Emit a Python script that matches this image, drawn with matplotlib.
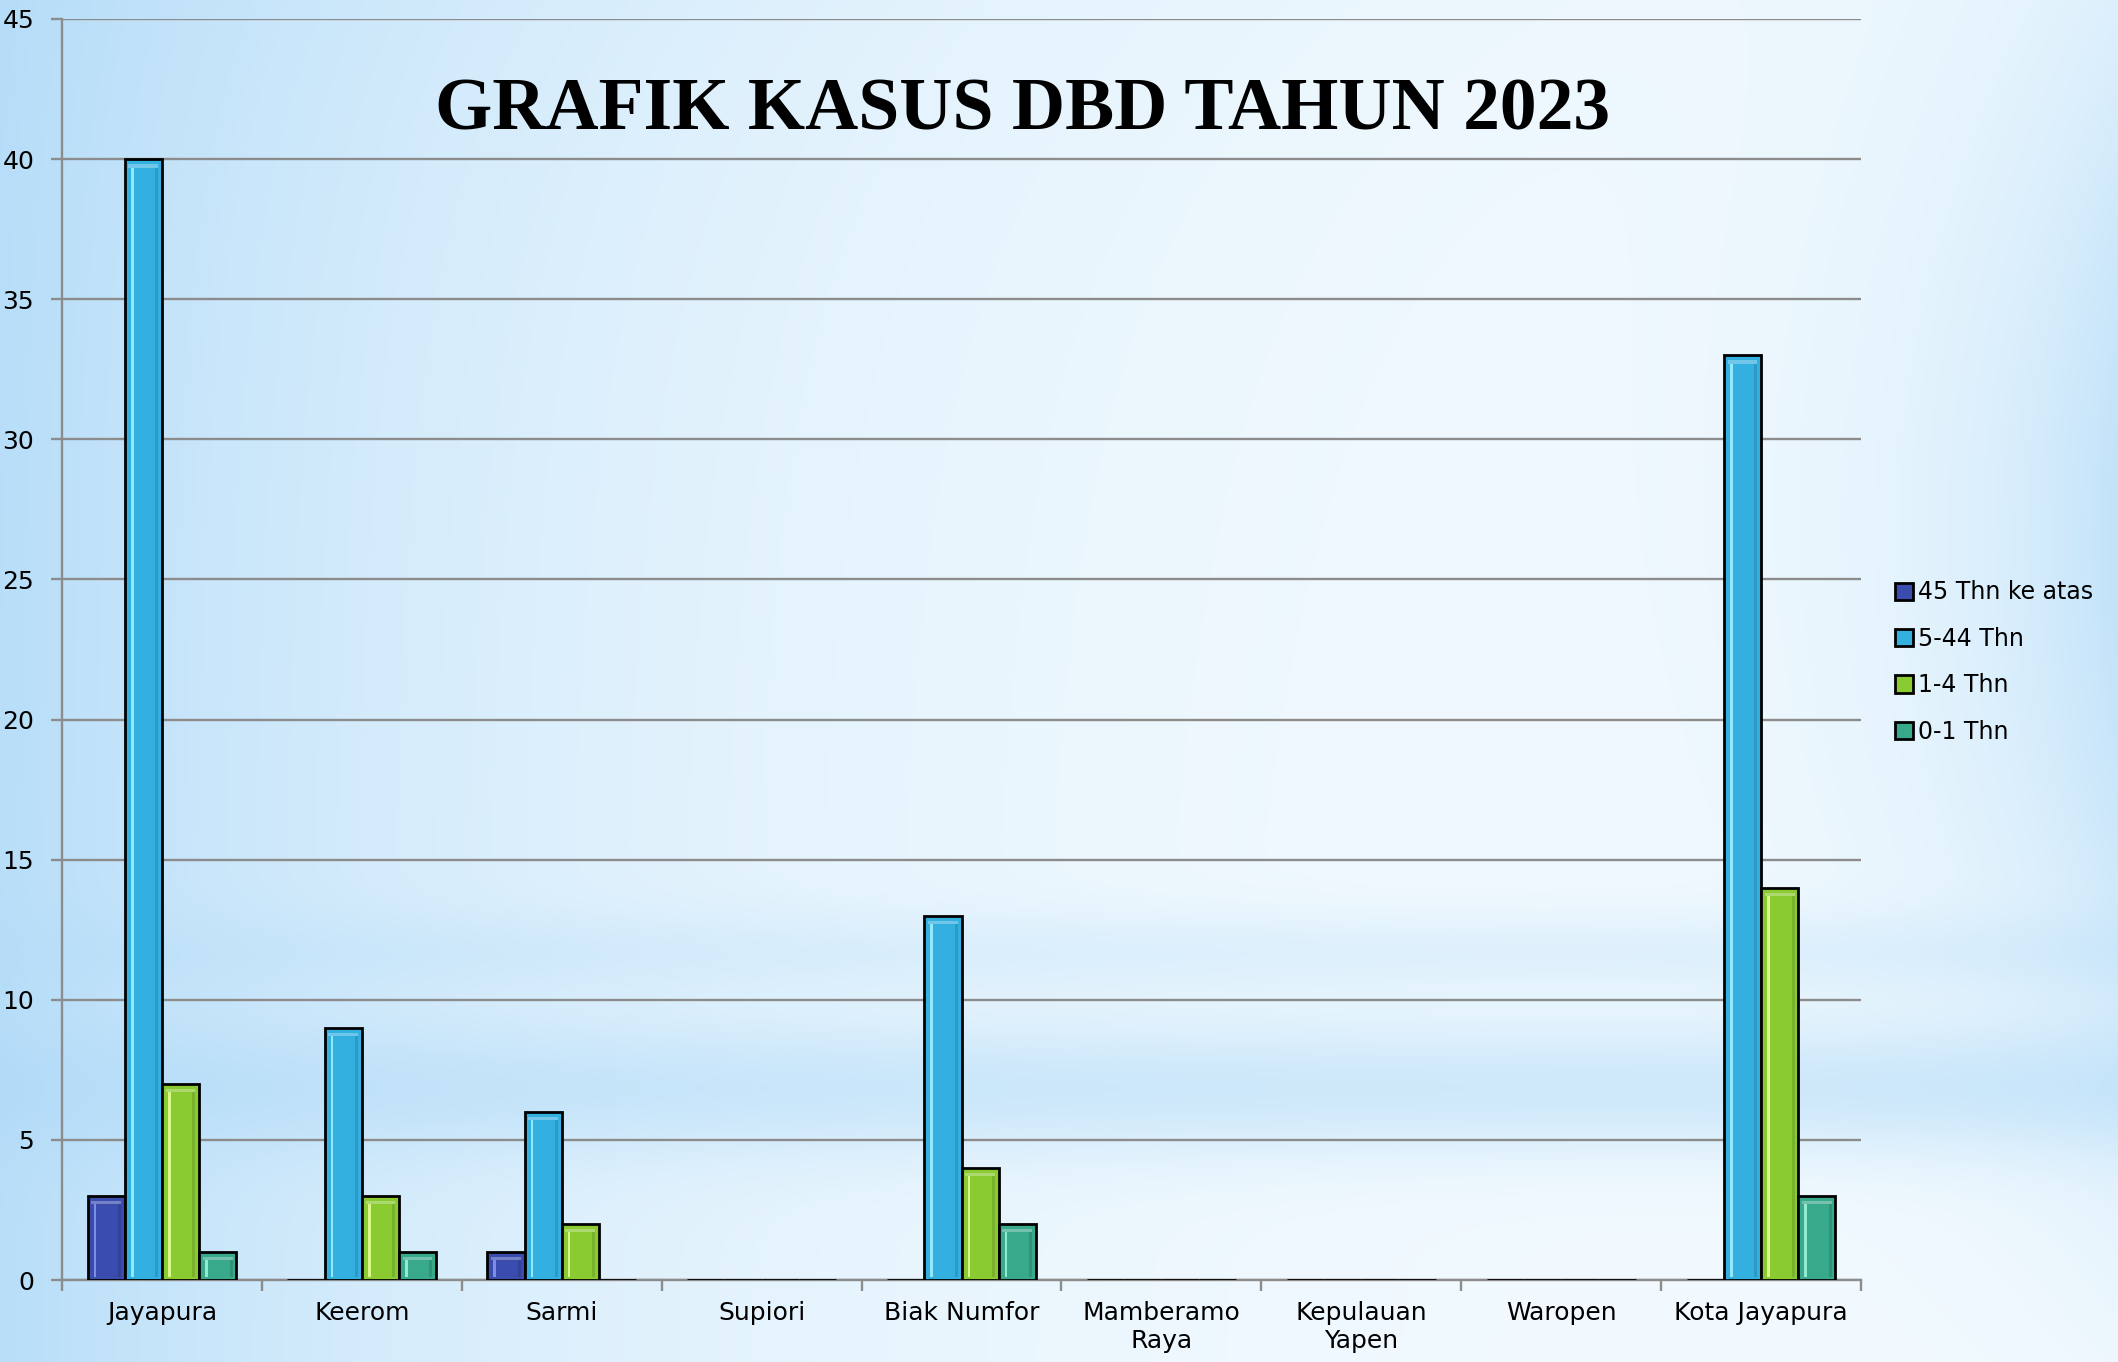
import numpy as np
import matplotlib
matplotlib.use("Agg")
import matplotlib.pyplot as plt
from matplotlib.patches import Patch

categories = ["Jayapura", "Keerom", "Sarmi", "Supiori", "Biak Numfor",
              "Mamberamo\nRaya", "Kepulauan\nYapen", "Waropen", "Kota Jayapura"]
series_names = ["45 Thn ke atas", "5-44 Thn", "1-4 Thn", "0-1 Thn"]
s45 = [3, 0, 1, 0, 0, 0, 0, 0, 0]
s5_44 = [40, 9, 6, 0, 13, 0, 0, 0, 33]
s1_4 = [7, 3, 2, 0, 4, 0, 0, 0, 14]
s0_1 = [1, 1, 0, 0, 2, 0, 0, 0, 3]
yticks = [0, 5, 10, 15, 20, 25, 30, 35, 40, 45]
title = "GRAFIK KASUS DBD TAHUN 2023"

colors = ["#3a4cae", "#33b0e0", "#8acb32", "#38a98b"]
highlights = ["#8b9af0", "#a5f4ff", "#eaff9a", "#a0f7de"]

W, H = 2118, 1362
fig = plt.figure(figsize=(W / 100, H / 100), dpi=100)

# background gradient
bg = fig.add_axes([0, 0, 1, 1], zorder=-10)
u = np.linspace(0, 1, 400)[None, :]
v = np.linspace(0, 1, 260)[:, None]
t_left = 0.85 * np.exp(-u / 0.30)
t_right = 0.7 * np.exp(-(1 - u) / 0.09) * np.exp(-((v - 0.40) / 0.45) ** 2)
t_band = 0.5 * np.exp(-((v - 0.80) / 0.05) ** 2)
t_band2 = 0.25 * np.exp(-((v - 0.70) / 0.03) ** 2)
t_top = 0.25 * np.exp(-v / 0.2) * np.exp(-u / 0.5)
t = 1 - (1 - t_left) * (1 - t_right) * (1 - t_band) * (1 - t_band2) * (1 - t_top)
t = np.clip(t, 0, 1)
blue = np.array([0.68, 0.85, 0.97])
white = np.array([0.97, 0.99, 1.0])
img = white[None, None, :] * (1 - t[..., None]) + blue[None, None, :] * t[..., None]
bg.imshow(img, aspect="auto", extent=[0, 1, 0, 1], interpolation="bicubic")
bg.axis("off")

ax = fig.add_axes([62 / W, 1 - 1280 / H, (1861 - 62) / W, (1280 - 19) / H])
ax.set_facecolor("none")

x = np.arange(len(categories))
width = 0.186
all_series = [s45, s5_44, s1_4, s0_1]
for i, (vals, c, hl) in enumerate(zip(all_series, colors, highlights)):
    pos = x + (i - 1.5) * width
    ax.bar(pos, vals, width=width, color=c, edgecolor="black", linewidth=2.0, zorder=3)
    vals_arr = np.array(vals, dtype=float)
    has = vals_arr > 0
    inner = np.where(has, np.maximum(vals_arr - 0.3, 0), 0)
    base = np.where(has, 0.1, 0)
    ax.bar(pos - width * 0.30, inner - base, width=width * 0.07, bottom=base,
           color=hl, edgecolor="none", alpha=0.85, zorder=4)
    ax.bar(pos + width * 0.36, inner - base, width=width * 0.08, bottom=base,
           color="black", edgecolor="none", alpha=0.12, zorder=4)
    ax.bar(pos, np.where(has, 0.12, 0), width=width * 0.8, bottom=inner,
           color="white", edgecolor="none", alpha=0.3, zorder=4)

ax.set_xlim(-0.5, len(categories) - 0.5)
ax.set_ylim(0, 45)
ax.set_yticks(yticks)
ax.yaxis.grid(True, color="#8c8c8c", linewidth=1.7, zorder=0)
ax.set_axisbelow(True)
ax.set_xticks(x)
ax.set_xticklabels(categories, fontsize=18, family="DejaVu Sans", linespacing=1.2)
ax.set_xticks(np.arange(len(categories) + 1) - 0.5, minor=True)
ax.tick_params(axis="x", which="major", length=0, pad=15)
ax.tick_params(axis="x", which="minor", length=8, width=1.7, color="#8c8c8c", direction="out")
ax.tick_params(axis="y", length=8, width=1.7, color="#8c8c8c", direction="out", pad=12, labelsize=18)
for sp in ["top", "right"]:
    ax.spines[sp].set_visible(False)
for sp in ["left", "bottom"]:
    ax.spines[sp].set_color("#8c8c8c")
    ax.spines[sp].set_linewidth(1.7)

fig.text(1023 / W, 1 - 112 / H, title, ha="center", va="center",
         fontsize=53, fontweight="bold", family=["Liberation Serif", "DejaVu Serif"])

handles = [Patch(facecolor=c, edgecolor="black", linewidth=2) for c in colors]
leg = fig.legend(handles, series_names, loc="upper left",
                 bbox_to_anchor=(1886 / W, 1 - 571 / H), frameon=False,
                 fontsize=17, handlelength=0.75, handleheight=0.75,
                 handletextpad=0.2, labelspacing=0.95, borderaxespad=0)

fig.savefig("out.png", dpi=100)
